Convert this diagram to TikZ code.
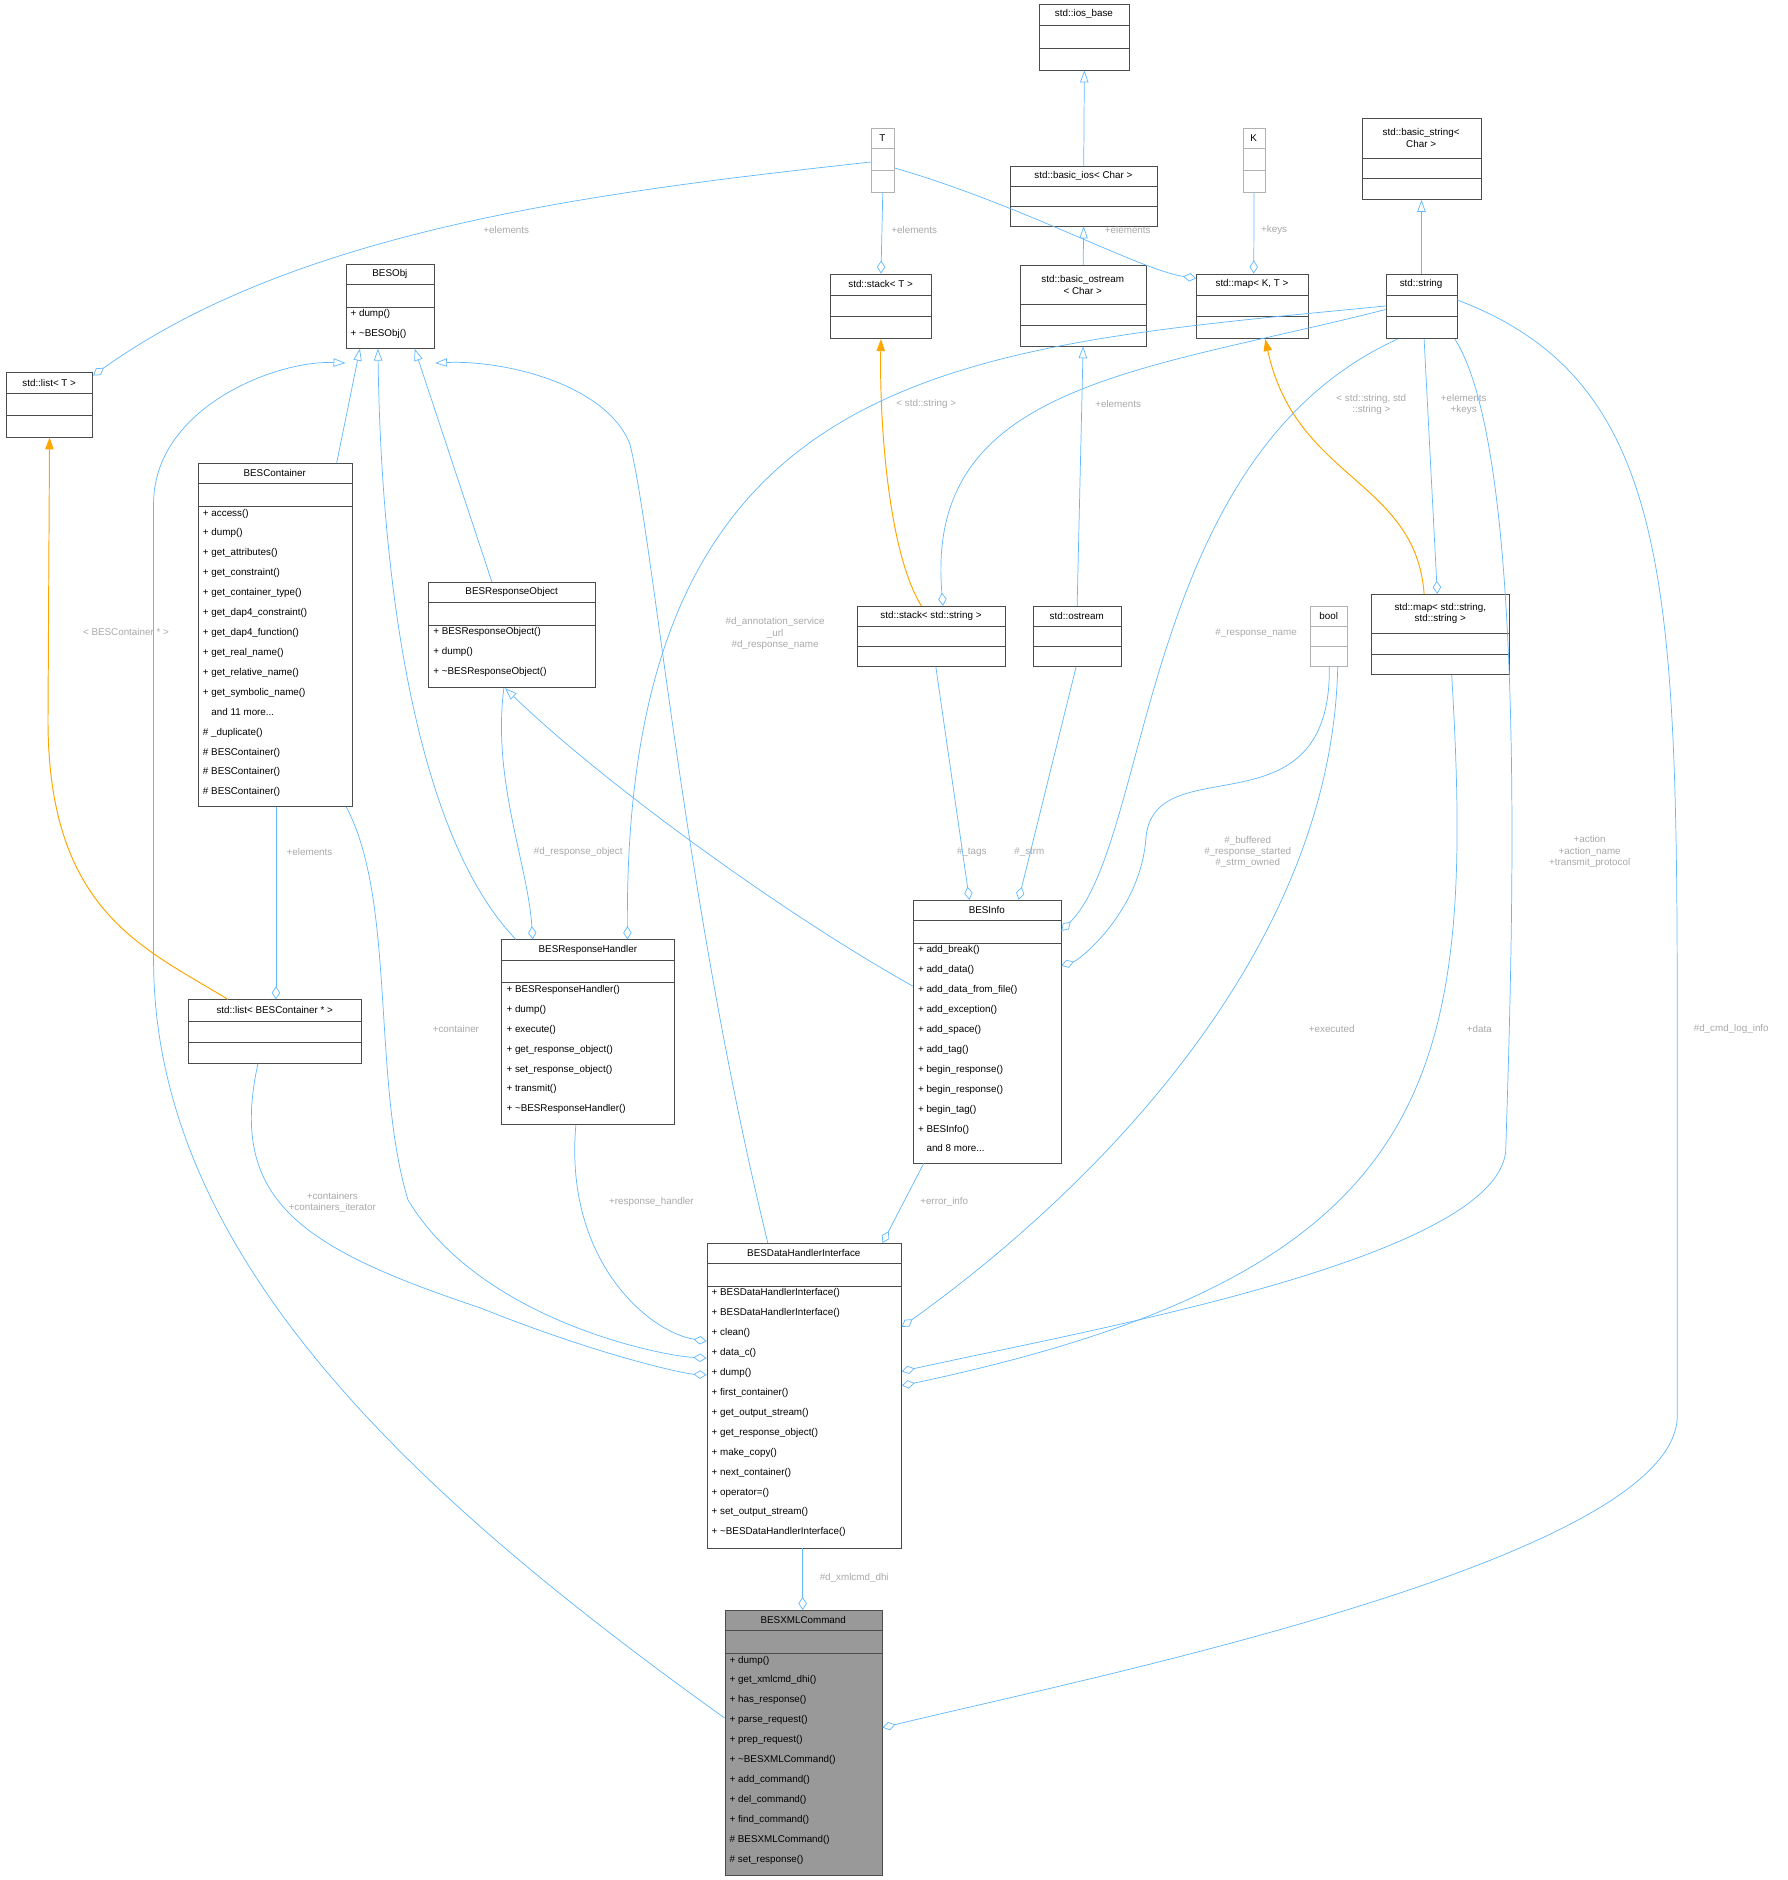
\documentclass[tikz,border=0pt]{standalone}
\usepackage{fontspec}
\setmainfont{Liberation Sans}
\usetikzlibrary{arrows.meta}
\definecolor{edge}{HTML}{63B8FF}
\definecolor{tmpl}{HTML}{FFA500}
\definecolor{lbl}{HTML}{A8A8A8}
\tikzset{
  bx/.style={draw=black!70,line width=0.6pt,inner sep=0,anchor=north west},
  gbx/.style={draw=black!30,line width=0.6pt,inner sep=0,anchor=north west},
  ttl/.style={font=\fontsize{8.2}{9.5}\selectfont,align=center,inner sep=0},
  mth/.style={font=\fontsize{8.2}{16.6}\selectfont,align=left,inner sep=0,anchor=north west},
  agg/.style={draw=edge,line width=0.6pt,-{Diamond[open,length=11pt,width=7pt]}},
  inh/.style={draw=edge,line width=0.6pt,-{Triangle[open,length=10pt,width=7pt]}},
  tpl/.style={draw=tmpl,line width=0.8pt,-{Triangle[length=10pt,width=7pt]}},
  lb/.style={font=\fontsize{8.2}{9.5}\selectfont,text=lbl,align=center,inner sep=0}
}
% name, l, t, r, b, line1 y, line2 y, title, style, line colour
\newcommand\clsbox[9]{%
  \node[#9,minimum width={(#4-#2)*1pt},minimum height={(#5-#3)*1pt}] (#1) at (#2,#3) {};
  \draw[#9,line width=0.5pt] (#2,#6) -- (#4,#6);
  \draw[#9,line width=0.5pt] (#2,#7) -- (#4,#7);
  \node[ttl] at ({(#2+#4)/2},{(#3+#6)/2}) {#8};
}
\begin{document}
\begin{tikzpicture}[x=1pt,y=-1pt]
\useasboundingbox (0,0) rectangle (1490,1567);
% classes
\clsbox{iosb}{866}{3}{941}{58}{21}{40}{std::ios\_base}{bx}
\clsbox{bios}{842}{138}{964}{188}{155}{172}{std::basic\_ios< Char >}{bx}
\clsbox{T}{726}{107}{745}{160}{124}{142}{T}{gbx}
\clsbox{K}{1036}{107}{1054}{160}{124}{142}{K}{gbx}
\clsbox{bstr}{1135}{98}{1234}{166}{132}{149}{std::basic\_string<\\Char >}{bx}
\clsbox{besobj}{288}{220}{362}{290}{237}{256}{BESObj}{bx}
\node[mth] at (292,258) {+ dump()\\+ \textasciitilde BESObj()};
\clsbox{stackT}{692}{228}{776}{282}{246}{264}{std::stack< T >}{bx}
\clsbox{bos}{850}{221}{955}{288}{254}{271}{std::basic\_ostream\\< Char >}{bx}
\clsbox{mapKT}{997}{228}{1090}{282}{246}{264}{std::map< K, T >}{bx}
\clsbox{str}{1155}{228}{1214}{282}{246}{264}{std::string}{bx}
\clsbox{listT}{5}{310}{77}{364}{328}{346}{std::list< T >}{bx}
\clsbox{cont}{165}{386}{293}{672}{403}{422}{BESContainer}{bx}
\node[mth] at (169,424) {+ access()\\+ dump()\\+ get\_attributes()\\+ get\_constraint()\\+ get\_container\_type()\\+ get\_dap4\_constraint()\\+ get\_dap4\_function()\\+ get\_real\_name()\\+ get\_relative\_name()\\+ get\_symbolic\_name()\\\phantom{+ }and 11 more...\\\# \_duplicate()\\\# BESContainer()\\\# BESContainer()\\\# BESContainer()};
\clsbox{resobj}{357}{485}{496}{573}{502}{521}{BESResponseObject}{bx}
\node[mth] at (361,523) {+ BESResponseObject()\\+ dump()\\+ \textasciitilde BESResponseObject()};
\clsbox{stackS}{714}{505}{838}{555}{522}{539}{std::stack< std::string >}{bx}
\clsbox{ostr}{861}{505}{934}{555}{522}{539}{std::ostream}{bx}
\clsbox{bool}{1092}{505}{1123}{555}{522}{539}{bool}{gbx}
\clsbox{mapSS}{1143}{495}{1258}{562}{528}{545}{std::map< std::string,\\std::string >}{bx}
\clsbox{info}{761}{750}{884}{969}{767}{786}{BESInfo}{bx}
\node[mth] at (765,788) {+ add\_break()\\+ add\_data()\\+ add\_data\_from\_file()\\+ add\_exception()\\+ add\_space()\\+ add\_tag()\\+ begin\_response()\\+ begin\_response()\\+ begin\_tag()\\+ BESInfo()\\\phantom{+ }and 8 more...};
\clsbox{rh}{418}{783}{562}{937}{800}{819}{BESResponseHandler}{bx}
\node[mth] at (422,821) {+ BESResponseHandler()\\+ dump()\\+ execute()\\+ get\_response\_object()\\+ set\_response\_object()\\+ transmit()\\+ \textasciitilde BESResponseHandler()};
\clsbox{listC}{157}{833}{301}{886}{851}{869}{std::list< BESContainer * >}{bx}
\clsbox{dhi}{589}{1036}{751}{1290}{1053}{1072}{BESDataHandlerInterface}{bx}
\node[mth] at (593,1074) {+ BESDataHandlerInterface()\\+ BESDataHandlerInterface()\\+ clean()\\+ data\_c()\\+ dump()\\+ first\_container()\\+ get\_output\_stream()\\+ get\_response\_object()\\+ make\_copy()\\+ next\_container()\\+ operator=()\\+ set\_output\_stream()\\+ \textasciitilde BESDataHandlerInterface()};
\fill[black!40] (604,1342) rectangle (735,1563);
\clsbox{xml}{604}{1342}{735}{1563}{1359}{1378}{BESXMLCommand}{bx}
\node[mth] at (608,1380) {+ dump()\\+ get\_xmlcmd\_dhi()\\+ has\_response()\\+ parse\_request()\\+ prep\_request()\\+ \textasciitilde BESXMLCommand()\\+ add\_command()\\+ del\_command()\\+ find\_command()\\\# BESXMLCommand()\\\# set\_response()};
% inheritance
\draw[inh] (bios.north) -- (iosb.south);
\draw[inh] (bos.north) -- (bios.south);
\draw[inh] (ostr.north) -- (bos.south);
\draw[inh] (str.north) -- (bstr.south);
\draw[inh] ([xshift=-13pt]cont.north east) -- ([xshift=12pt]besobj.south west);
\draw[inh] ([xshift=53pt]resobj.north west) -- ([xshift=-17pt]besobj.south east);
\draw[inh] ([xshift=12pt]rh.north west) .. controls (350,700) and (318,500) .. ([xshift=27pt]besobj.south west);
\draw[inh] ([xshift=51pt]dhi.north west) .. controls (570,750) and (545,450) .. (525,370) .. controls (505,320) and (420,300) .. ([yshift=-12pt]besobj.south east);
\draw[inh] ([yshift=-90pt]xml.north west) .. controls (350,1250) and (128,1050) .. (128,800) -- (128,420) .. controls (128,340) and (230,300) .. ([yshift=-12pt]besobj.south west);
\draw[inh] ([yshift=-72pt]info.north west) .. controls (650,760) and (500,650) .. ([xshift=64pt]resobj.south west);
% template
\draw[tpl] ([xshift=54pt]stackS.north west) .. controls (740,460) and (733,350) .. (stackT.south);
\draw[tpl] ([xshift=44pt]mapSS.north west) .. controls (1180,400) and (1080,400) .. ([xshift=-36pt]mapKT.south east);
\draw[tpl] ([xshift=33pt]listC.north west) .. controls (120,790) and (40,760) .. (40,600) -- (listT.south);
% aggregation
\draw[agg] (T.south) -- (stackT.north);
\draw[agg] ([yshift=-33pt]T.north east) .. controls (850,170) and (950,225) .. ([yshift=-4pt]mapKT.north west);
\draw[agg] (K.south) -- ([xshift=48pt]mapKT.north west);
\draw[agg] ([yshift=-28pt]T.north west) .. controls (500,160) and (250,190) .. ([yshift=-3pt]listT.north east);
\draw[agg] ([yshift=-30pt]str.north west) .. controls (950,310) and (770,320) .. ([xshift=72pt]stackS.north west);
\draw[agg] ([xshift=32pt]str.south west) -- ([xshift=55pt]mapSS.north west);
\draw[agg] ([yshift=-27pt]str.north west) .. controls (800,290) and (520,300) .. ([xshift=105pt]rh.north west);
\draw[agg] ([xshift=10pt]str.south west) .. controls (950,380) and (960,700) .. ([yshift=-26pt]info.north east);
\draw[agg] ([xshift=-2pt]str.south east) .. controls (1275,380) and (1260,800) .. (1255,960) .. controls (1245,1050) and (900,1110) .. ([yshift=-107pt]dhi.north east);
\draw[agg] ([yshift=-22pt]str.north east) .. controls (1400,320) and (1398,500) .. (1398,900) -- (1398,1180) .. controls (1398,1300) and (900,1400) .. ([yshift=-98pt]xml.north east);
\draw[agg] (cont.south -| 230,0) -- ([xshift=73pt]listC.north west);
\draw[agg] ([xshift=-5pt]cont.south east) .. controls (330,750) and (310,900) .. (340,1000) .. controls (400,1100) and (550,1130) .. ([yshift=-96pt]dhi.north west);
\draw[agg] ([xshift=63pt]resobj.south west) .. controls (410,650) and (440,720) .. ([xshift=26pt]rh.north west);
\draw[agg] ([xshift=66pt]stackS.south west) -- ([xshift=47pt]info.north west);
\draw[agg] ([xshift=36pt]ostr.south west) -- ([xshift=88pt]info.north west);
\draw[agg] ([xshift=16pt]bool.south west) .. controls (1110,700) and (960,620) .. (955,700) .. controls (950,760) and (900,800) .. ([yshift=-55pt]info.north east);
\draw[agg] ([xshift=23pt]bool.south west) .. controls (1110,800) and (900,1000) .. ([yshift=-70pt]dhi.north east);
\draw[agg] ([xshift=67pt]mapSS.south west) .. controls (1230,900) and (1200,1060) .. ([yshift=-119pt]dhi.north east);
\draw[agg] ([xshift=9pt]info.south west) -- ([xshift=-16pt]dhi.north east);
\draw[agg] ([xshift=62pt]rh.south west) .. controls (470,1050) and (540,1110) .. ([yshift=-82pt]dhi.north west);
\draw[agg] ([xshift=58pt]listC.south west) .. controls (190,1000) and (250,1040) .. (400,1090) .. controls (500,1130) and (570,1145) .. ([yshift=-110pt]dhi.north west);
\draw[agg] ([xshift=80pt]dhi.south west) -- ([xshift=65pt]xml.north west);
% labels
\node[lb] at (762,192) {+elements};
\node[lb] at (940,192) {+elements};
\node[lb] at (1062,192) {+keys};
\node[lb] at (422,192) {+elements};
\node[lb] at (772,337) {< std::string >};
\node[lb] at (1143,337) {< std::string, std\\::string >};
\node[lb] at (1220,337) {+elements\\+keys};
\node[lb] at (932,337) {+elements};
\node[lb] at (646,528) {\#d\_annotation\_service\\\_url\\\#d\_response\_name};
\node[lb] at (1047,528) {\#\_response\_name};
\node[lb] at (105,527) {< BESContainer * >};
\node[lb] at (258,710) {+elements};
\node[lb] at (482,710) {\#d\_response\_object};
\node[lb] at (810,710) {\#\_tags};
\node[lb] at (858,710) {\#\_strm};
\node[lb] at (1040,710) {\#\_buffered\\\#\_response\_started\\\#\_strm\_owned};
\node[lb] at (1325,710) {+action\\+action\_name\\+transmit\_protocol};
\node[lb] at (380,858) {+container};
\node[lb] at (1110,858) {+executed};
\node[lb] at (1233,858) {+data};
\node[lb] at (1443,858) {\#d\_cmd\_log\_info};
\node[lb] at (277,1002) {+containers\\+containers\_iterator};
\node[lb] at (543,1002) {+response\_handler};
\node[lb] at (787,1002) {+error\_info};
\node[lb] at (712,1315) {\#d\_xmlcmd\_dhi};
\end{tikzpicture}
\end{document}
